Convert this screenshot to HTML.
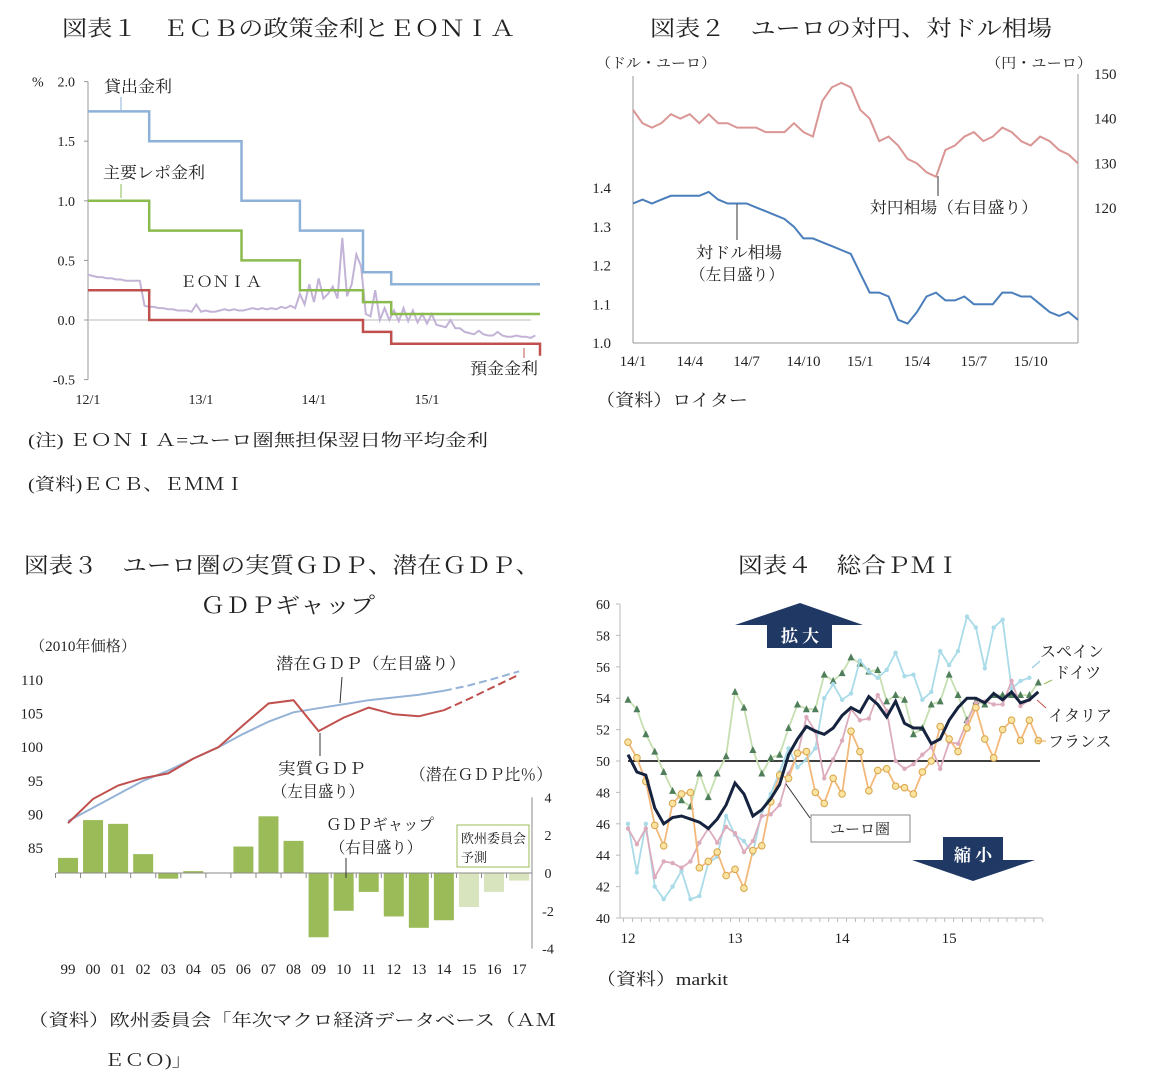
<!DOCTYPE html>
<html><head><meta charset="utf-8"><style>
body{margin:0;background:#fff}
svg{display:block;font-family:"Liberation Serif","Noto Serif CJK JP","Noto Serif CJK SC",serif}
text{fill:#222}
</style></head><body>
<svg id="s" width="1151" height="1084" viewBox="0 0 1151 1084">
<text x="62" y="36" font-size="22" textLength="453" lengthAdjust="spacingAndGlyphs">図表１　ＥＣＢの政策金利とＥＯＮＩＡ</text>
<text x="650" y="36" font-size="22" textLength="402" lengthAdjust="spacingAndGlyphs">図表２　ユーロの対円、対ドル相場</text>
<text x="24" y="573" font-size="22" textLength="516" lengthAdjust="spacingAndGlyphs">図表３　ユーロ圏の実質ＧＤＰ、潜在ＧＤＰ、</text>
<text x="200" y="613" font-size="22" textLength="175" lengthAdjust="spacingAndGlyphs">ＧＤＰギャップ</text>
<text x="738" y="573" font-size="22" textLength="222" lengthAdjust="spacingAndGlyphs">図表４　総合ＰＭＩ</text>
<text x="28" y="446" font-size="17" textLength="460" lengthAdjust="spacingAndGlyphs">(注) ＥＯＮＩＡ=ユーロ圏無担保翌日物平均金利</text>
<text x="28" y="490" font-size="17" textLength="217" lengthAdjust="spacingAndGlyphs">(資料)ＥＣＢ、ＥＭＭＩ</text>
<text x="596" y="406" font-size="17" textLength="152" lengthAdjust="spacingAndGlyphs">（資料）ロイター</text>
<text x="596" y="985" font-size="17" textLength="132" lengthAdjust="spacingAndGlyphs">（資料）markit</text>
<text x="28" y="1026" font-size="17" textLength="528" lengthAdjust="spacingAndGlyphs">（資料）欧州委員会「年次マクロ経済データベース（ＡＭ</text>
<text x="104" y="1066" font-size="17" textLength="88" lengthAdjust="spacingAndGlyphs">ＥＣＯ)」</text>
<g id="g1"></g><g id="g2"></g><g id="g3"></g><g id="g4"></g>
</svg>
<script>
// ---------- Chart 1 data ----------
const c1Steps=[0,6.5,16.3,22.5,29.2,32.2,48]; // month boundaries from 2012/1
const c1Lending=[1.75,1.5,1.0,0.75,0.4,0.3];
const c1Refi=[1.0,0.75,0.5,0.25,0.15,0.05];
const c1Deposit=[0.25,0,0,0,-0.1,-0.2];
const c1Eonia=[0.38,0.37,0.36,0.36,0.35,0.35,0.34,0.34,0.33,0.33,0.33,0.33,0.12,0.11,0.11,0.10,0.10,0.09,0.09,0.08,0.08,0.08,0.07,0.13,
0.07,0.08,0.07,0.07,0.08,0.09,0.08,0.09,0.08,0.08,0.09,0.10,0.09,0.10,0.09,0.10,0.09,0.11,0.10,0.12,0.10,0.22,0.13,0.30,
0.15,0.35,0.18,0.22,0.28,0.18,0.69,0.2,0.3,0.55,0.45,0.05,0.03,0.25,0.0,0.1,0.0,0.08,-0.01,0.1,-0.01,0.08,-0.02,0.05,
-0.03,0.05,-0.04,-0.05,-0.06,0.0,-0.07,-0.07,-0.10,-0.11,-0.12,-0.09,-0.12,-0.13,-0.13,-0.10,-0.13,-0.14,-0.14,-0.13,-0.14,-0.14,-0.15,-0.13];
const c1YTicks=[2.0,1.5,1.0,0.5,0.0,-0.5];
const c1XLabels=["12/1","13/1","14/1","15/1"];
// ---------- Chart 2 data ----------
const c2Usd=[1.36,1.37,1.36,1.37,1.38,1.38,1.38,1.38,1.39,1.37,1.36,1.36,1.36,1.35,1.34,1.33,1.32,1.30,1.27,1.27,1.26,1.25,1.24,1.23,
1.18,1.13,1.13,1.12,1.06,1.05,1.08,1.12,1.13,1.11,1.11,1.12,1.10,1.10,1.10,1.13,1.13,1.12,1.12,1.10,1.08,1.07,1.08,1.06];
const c2Jpy=[142,139,138,139,141,140,141,139,141,139,139,138,138,138,137,137,137,139,137,136,144,147,148,147,
142,140,135,136,134,131,130,128,127,133,134,136,137,135,136,138,137,135,134,136,135,133,132,130];
const c2LeftTicks=[1.0,1.1,1.2,1.3,1.4];
const c2RightTicks=[120,130,140,150];
const c2XLabels=["14/1","14/4","14/7","14/10","15/1","15/4","15/7","15/10"];
// ---------- Chart 3 data ----------
const c3Years=["99","00","01","02","03","04","05","06","07","08","09","10","11","12","13","14","15","16","17"];
const c3Gap=[0.8,2.8,2.6,1.0,-0.3,0.1,0.0,1.4,3.0,1.7,-3.4,-2.0,-1.0,-2.3,-2.9,-2.5,-1.8,-1.0,-0.4];
const c3Potential=[89,91,93,95,96.5,98.3,100,102,103.8,105.2,105.8,106.4,107,107.4,107.8,108.4,109.2,110.2,111.3];
const c3Real=[88.7,92.3,94.3,95.4,96.1,98.3,100,103.3,106.5,107,102.4,104.4,105.9,104.9,104.6,105.5,107.2,109,110.8];
const c3LeftTicks=[85,90,95,100,105,110];
const c3RightTicks=[4,2,0,-2,-4];
// ---------- Chart 4 data ----------
const c4Euro=[50.4,49.3,49.1,47.0,46.0,46.4,46.5,46.3,46.1,45.7,46.3,47.2,48.6,47.9,46.5,46.9,47.6,48.5,50.4,51.4,52.2,51.9,51.7,52.1,52.9,53.4,53.1,54.1,53.6,52.8,53.8,52.4,52.1,52.1,51.1,51.4,52.6,53.4,54.0,54.0,53.7,54.3,53.9,54.4,53.7,53.9,54.4];
const c4Germany=[53.9,53.3,51.7,50.6,49.3,48.1,47.5,47.1,49.2,47.7,49.2,50.3,54.4,53.4,50.7,49.2,50.2,50.4,52.1,53.6,53.3,53.3,55.5,55.1,55.6,56.6,56.2,55.7,55.8,53.8,54.2,53.9,51.7,52.1,53.6,53.8,55.5,54.2,52.6,53.8,53.6,54.2,54.2,54.2,54.2,54.2,55.0];
const c4Spain=[46.0,42.9,46.0,42.0,41.2,42.0,43.0,41.2,41.4,43.5,43.9,46.5,45.3,44.9,44.1,46.8,47.9,49.3,50.8,49.6,50.1,50.8,54.0,54.9,53.9,54.3,56.4,55.7,55.3,55.8,56.9,55.4,55.5,53.9,54.4,57.0,56.1,57.0,59.2,58.5,55.9,58.5,59.0,54.6,55.1,55.3];
const c4Italy=[45.7,44.7,45.7,42.6,43.6,43.5,43.2,43.6,44.8,45.7,44.8,45.8,45.4,44.2,44.9,46.5,46.6,47.2,49.2,50.4,52.8,51.9,48.9,50.1,51.3,53.3,52.6,52.7,54.2,53.2,50.0,49.5,49.8,50.4,50.9,49.5,51.2,51.1,52.5,53.7,53.8,53.6,53.6,55.1,53.5,53.9];
const c4France=[51.2,50.2,48.7,45.9,44.6,47.3,47.9,48.0,43.2,43.6,44.2,42.7,43.1,41.9,44.3,44.6,47.4,49.1,48.9,50.5,50.6,48.0,47.3,48.9,47.9,51.9,50.6,48.1,49.4,49.5,48.4,48.3,47.9,49.3,50.0,52.2,51.4,50.6,52.1,53.4,51.4,50.2,52.0,52.6,51.3,52.6,51.3];
const c4YTicks=[40,42,44,46,48,50,52,54,56,58,60];
const c4XLabels=["12","13","14","15"];

const NS="http://www.w3.org/2000/svg";
function mk(parent,tag,attrs,txt){const e=document.createElementNS(NS,tag);for(const k in attrs)e.setAttribute(k,attrs[k]);if(txt!==undefined)e.textContent=txt;parent.appendChild(e);return e;}
function pts(arr,fx,fy){return arr.map((v,i)=>fx(i).toFixed(1)+","+fy(v).toFixed(1)).join(" ");}

// ===== Chart 1 =====
(function(){
const g=document.getElementById('g1');
const X=m=>88+m*113/12, Y=v=>320-v*119.2;
let e;
e=mk(g,'line',{x1:88,y1:Y(2),x2:88,y2:Y(-0.5),stroke:'#999'});

e=mk(g,'line',{x1:88,y1:Y(0),x2:531,y2:Y(0),stroke:'#bbb'});

c1YTicks.forEach(v=>{
 e=mk(g,'text',{x:75,y:Y(v)+5,'font-size':14,'text-anchor':'end'},v.toFixed(1));
 
 mk(g,'line',{x1:84,y1:Y(v),x2:88,y2:Y(v),stroke:'#999'});
});
e=mk(g,'text',{x:32,y:Y(2)+5,'font-size':14},'%');

c1XLabels.forEach((l,i)=>{
 e=mk(g,'text',{x:X(i*12),y:404,'font-size':14,'text-anchor':'middle'},l);
 
});
function stepPath(vals){let d='';vals.forEach((v,i)=>{d+=(i?'L':'M')+X(c1Steps[i]).toFixed(1)+','+Y(v).toFixed(1)+'L'+X(c1Steps[i+1]).toFixed(1)+','+Y(v).toFixed(1);});return d;}
e=mk(g,'polyline',{points:pts(c1Eonia,i=>X(i/2),Y),fill:'none',stroke:'#c3b3d6','stroke-width':2});

e=mk(g,'path',{d:stepPath(c1Lending),fill:'none',stroke:'#8eb1d8','stroke-width':2.5});

e=mk(g,'path',{d:stepPath(c1Refi),fill:'none',stroke:'#8bbb4e','stroke-width':2.5});

e=mk(g,'path',{d:stepPath(c1Deposit)+'L'+X(48).toFixed(1)+','+Y(-0.3).toFixed(1),fill:'none',stroke:'#c0504d','stroke-width':2.5});

e=mk(g,'text',{x:104,y:92,'font-size':16,textLength:68,lengthAdjust:'spacingAndGlyphs'},'貸出金利');

mk(g,'line',{x1:121,y1:97,x2:121,y2:110,stroke:'#8eb1d8'});
e=mk(g,'text',{x:103,y:178,'font-size':16,textLength:102,lengthAdjust:'spacingAndGlyphs'},'主要レポ金利');

mk(g,'line',{x1:121,y1:184,x2:121,y2:198,stroke:'#8bbb4e'});
e=mk(g,'text',{x:180,y:287,'font-size':15,textLength:82,lengthAdjust:'spacingAndGlyphs'},'ＥＯＮＩＡ');

e=mk(g,'text',{x:470,y:374,'font-size':16,textLength:68,lengthAdjust:'spacingAndGlyphs'},'預金金利');

mk(g,'line',{x1:524,y1:348,x2:524,y2:358,stroke:'#c0504d'});
})();

// ===== Chart 2 =====
(function(){
const g=document.getElementById('g2');
const X=i=>633+i*445/47, YL=v=>343-(v-1.0)*387.5, YR=v=>74+(150-v)*4.47;
let e;
mk(g,'line',{x1:633,y1:76,x2:633,y2:343,stroke:'#999'});
mk(g,'line',{x1:633,y1:343,x2:1078,y2:343,stroke:'#999'});
e=mk(g,'line',{x1:1078,y1:74,x2:1078,y2:343,stroke:'#999'});

c2LeftTicks.forEach(v=>{e=mk(g,'text',{x:611,y:YL(v)+5,'font-size':15,'text-anchor':'end'},v.toFixed(1));
 });
c2RightTicks.forEach(v=>{e=mk(g,'text',{x:1094,y:YR(v)+5,'font-size':15},String(v));
 });
c2XLabels.forEach((l,i)=>{e=mk(g,'text',{x:X(i*6),y:366,'font-size':15,'text-anchor':'middle'},l);
 });
e=mk(g,'text',{x:596,y:68,'font-size':14,textLength:120,lengthAdjust:'spacingAndGlyphs'},'（ドル・ユーロ）');

e=mk(g,'text',{x:986,y:68,'font-size':14,textLength:106,lengthAdjust:'spacingAndGlyphs'},'（円・ユーロ）');

e=mk(g,'polyline',{points:pts(c2Jpy,X,YR),fill:'none',stroke:'#d99694','stroke-width':2});

e=mk(g,'polyline',{points:pts(c2Usd,X,YL),fill:'none',stroke:'#4a7ebb','stroke-width':2});

e=mk(g,'text',{x:870,y:213,'font-size':16,textLength:168,lengthAdjust:'spacingAndGlyphs'},'対円相場（右目盛り）');

mk(g,'line',{x1:938,y1:196,x2:938,y2:176,stroke:'#333'});
e=mk(g,'text',{x:696,y:258,'font-size':16,textLength:86,lengthAdjust:'spacingAndGlyphs'},'対ドル相場');

e=mk(g,'text',{x:690,y:280,'font-size':16,textLength:94,lengthAdjust:'spacingAndGlyphs'},'（左目盛り）');

mk(g,'line',{x1:737,y1:240,x2:737,y2:204,stroke:'#333'});
})();

// ===== Chart 3 =====
(function(){
const g=document.getElementById('g3');
const X=i=>68+i*25.06, YL=v=>680+(110-v)*6.72, YR=v=>873-v*18.9;
let e;
c3Gap.forEach((v,i)=>{
 e=mk(g,'rect',{x:X(i)-10,y:Math.min(YR(v),YR(0)),width:20,height:Math.abs(YR(v)-YR(0)),fill:i>=16?'#d7e4bd':'#9bbb59'});
 
});
e=mk(g,'line',{x1:56,y1:YR(0),x2:532,y2:YR(0),stroke:'#888'});

e=mk(g,'line',{x1:532,y1:YR(4),x2:532,y2:YR(-4),stroke:'#888'});
c3Years.forEach((y,i)=>{
 mk(g,'line',{x1:X(i)-12.5,y1:YR(0),x2:X(i)-12.5,y2:YR(0)+5,stroke:'#888'});
 e=mk(g,'text',{x:X(i),y:974,'font-size':15,'text-anchor':'middle'},y);
 
});
c3LeftTicks.forEach(v=>{e=mk(g,'text',{x:43,y:YL(v)+5,'font-size':15,'text-anchor':'end'},String(v));
 });
c3RightTicks.forEach(v=>{e=mk(g,'text',{x:548,y:YR(v)+5,'font-size':14,'text-anchor':'middle'},String(v));
 });
const solidN=16;
function line(arr,color,name){
 e=mk(g,'polyline',{points:pts(arr.slice(0,solidN),X,YL),fill:'none',stroke:color,'stroke-width':2});
 
 e=mk(g,'polyline',{points:arr.slice(solidN-1).map((v,j)=>X(j+solidN-1).toFixed(1)+','+YL(v).toFixed(1)).join(' '),fill:'none',stroke:color,'stroke-width':2,'stroke-dasharray':'8,4'});
 
}
line(c3Potential,'#95b3d7','potential-gdp-line');
line(c3Real,'#c0504d','real-gdp-line');
e=mk(g,'text',{x:30,y:651,'font-size':15,textLength:106,lengthAdjust:'spacingAndGlyphs'},'（2010年価格）');

e=mk(g,'text',{x:276,y:669,'font-size':16,textLength:190,lengthAdjust:'spacingAndGlyphs'},'潜在ＧＤＰ（左目盛り）');

mk(g,'line',{x1:342,y1:677,x2:340,y2:703,stroke:'#333'});
e=mk(g,'text',{x:278,y:774,'font-size':16,textLength:88,lengthAdjust:'spacingAndGlyphs'},'実質ＧＤＰ');

e=mk(g,'text',{x:272,y:797,'font-size':16,textLength:92,lengthAdjust:'spacingAndGlyphs'},'（左目盛り）');

mk(g,'line',{x1:320,y1:756,x2:320,y2:733,stroke:'#333'});
e=mk(g,'text',{x:410,y:780,'font-size':16,textLength:142,lengthAdjust:'spacingAndGlyphs'},'（潜在ＧＤＰ比％）');

e=mk(g,'text',{x:326,y:830,'font-size':16,textLength:108,lengthAdjust:'spacingAndGlyphs'},'ＧＤＰギャップ');

e=mk(g,'text',{x:330,y:853,'font-size':16,textLength:92,lengthAdjust:'spacingAndGlyphs'},'（右目盛り）');

mk(g,'line',{x1:346,y1:858,x2:346,y2:878,stroke:'#333'});
e=mk(g,'rect',{x:457,y:825,width:72,height:42,fill:'#fff',stroke:'#9bbb59'});

e=mk(g,'text',{x:461,y:843,'font-size':13},'欧州委員会');
e=mk(g,'text',{x:461,y:862,'font-size':13},'予測');
})();

// ===== Chart 4 =====
(function(){
const g=document.getElementById('g4');
const X=i=>628+i*8.92, Y=v=>604+(60-v)*15.7;
let e;
e=mk(g,'line',{x1:620,y1:Y(60),x2:620,y2:Y(40),stroke:'#bbb'});

mk(g,'line',{x1:620,y1:Y(40),x2:1042,y2:Y(40),stroke:'#bbb'});
c4YTicks.forEach(v=>{
 mk(g,'line',{x1:616,y1:Y(v),x2:620,y2:Y(v),stroke:'#bbb'});
 e=mk(g,'text',{x:610,y:Y(v)+5,'font-size':14,'text-anchor':'end'},String(v));
 
});
for(let i=0;i<48;i++)mk(g,'line',{x1:X(i)-4.46,y1:Y(40),x2:X(i)-4.46,y2:Y(40)+4,stroke:'#bbb'});
c4XLabels.forEach((l,i)=>{e=mk(g,'text',{x:X(i*12),y:943,'font-size':15,'text-anchor':'middle'},l);
 });
e=mk(g,'line',{x1:628,y1:Y(50),x2:1040,y2:Y(50),stroke:'#000','stroke-width':1.5});

function series(arr,color,name,marker,mcol){
 e=mk(g,'polyline',{points:pts(arr,X,Y),fill:'none',stroke:color,'stroke-width':1.8});
 
 arr.forEach((v,i)=>{
  const x=X(i),y=Y(v);
  if(marker==='tri')e=mk(g,'polygon',{points:`${x},${y-4} ${x-3.5},${y+3} ${x+3.5},${y+3}`,fill:mcol});
  else if(marker==='circ')e=mk(g,'circle',{cx:x,cy:y,r:3.3,fill:'#fbe3a0',stroke:mcol,'stroke-width':1});
  else e=mk(g,'circle',{cx:x,cy:y,r:2.2,fill:mcol});
  
 });
}
series(c4Germany,'#c6dfb0','germany','tri','#4f7f5a');
series(c4Spain,'#a9dbe8','spain','dot','#a9dbe8');
series(c4Italy,'#dcacbd','italy','dot','#dcacbd');
series(c4France,'#f3b87a','france','circ','#d6a44a');
e=mk(g,'polyline',{points:pts(c4Euro,X,Y),fill:'none',stroke:'#16233f','stroke-width':3});

e=mk(g,'path',{d:'M800,603 L863,625 L832,625 L832,648 L767,648 L767,625 L735,625 Z',fill:'#1f3864'});

e=mk(g,'text',{x:800,y:642,'font-size':17,'text-anchor':'middle','font-weight':'bold',style:'fill:#fff'},'拡 大');

e=mk(g,'path',{d:'M943,837 L1003,837 L1003,860 L1035,860 L973,881 L912,860 L943,860 Z',fill:'#1f3864'});

e=mk(g,'text',{x:973,y:861,'font-size':17,'text-anchor':'middle','font-weight':'bold',style:'fill:#fff'},'縮 小');

mk(g,'line',{x1:810,y1:818,x2:786,y2:784,stroke:'#333'});
e=mk(g,'rect',{x:811,y:815,width:99,height:27,fill:'#fff',stroke:'#888'});

e=mk(g,'text',{x:860,y:834,'font-size':15,'text-anchor':'middle'},'ユーロ圏');

[['スペイン',1040,657],['ドイツ',1054,678],['イタリア',1048,721],['フランス',1048,747]].forEach(a=>{
 e=mk(g,'text',{x:a[1],y:a[2],'font-size':16},a[0]);
 
});
mk(g,'line',{x1:1040,y1:661,x2:1032,y2:668,stroke:'#7fc3d8'});
mk(g,'line',{x1:1052,y1:680,x2:1044,y2:684,stroke:'#9bbb59'});
mk(g,'line',{x1:1046,y1:708,x2:1037,y2:700,stroke:'#c0504d'});
mk(g,'line',{x1:1046,y1:741,x2:1037,y2:741,stroke:'#f3a04a'});
})();
</script>
</body></html>
